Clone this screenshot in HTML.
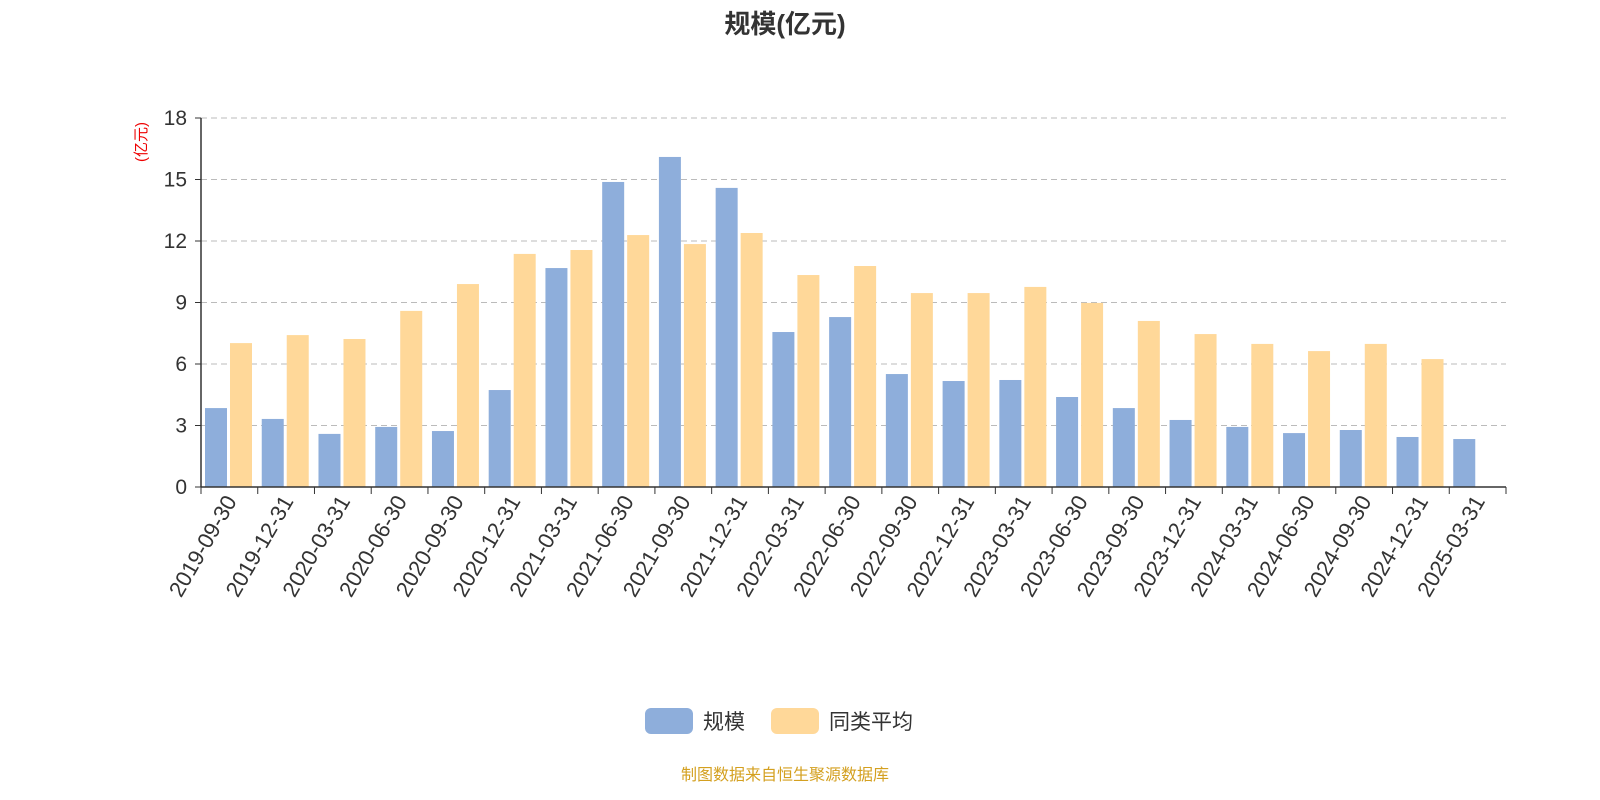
<!DOCTYPE html>
<html><head><meta charset="utf-8"><style>
html,body{margin:0;padding:0;background:#fff;}
svg{display:block;font-family:"Liberation Sans","Noto Sans CJK SC",sans-serif;}
</style></head><body>
<svg id="chart" width="1600" height="800" viewBox="0 0 1600 800">
<text x="785" y="33" text-anchor="middle" font-size="26" font-weight="bold" fill="#333">规模(亿元)</text>
<text transform="translate(146,142) rotate(-90)" text-anchor="middle" font-size="15" fill="#e00">(亿元)</text>
<g id="grid"></g><g id="bars"></g><g id="axes"></g>
<g>
<g><rect x="645" y="708" width="48" height="26" rx="6" fill="#8eaedb"/><text x="703" y="729" font-size="21" fill="#333">规模</text></g>
<g><rect x="771" y="708" width="48" height="26" rx="6" fill="#ffd899"/><text x="829" y="729" font-size="21" fill="#333">同类平均</text></g>
</g>
<text x="785" y="780" text-anchor="middle" font-size="16" fill="#d4a020">制图数据来自恒生聚源数据库</text>
</svg>
<script>
const categories=["2019-09-30","2019-12-31","2020-03-31","2020-06-30","2020-09-30","2020-12-31","2021-03-31","2021-06-30","2021-09-30","2021-12-31","2022-03-31","2022-06-30","2022-09-30","2022-12-31","2023-03-31","2023-06-30","2023-09-30","2023-12-31","2024-03-31","2024-06-30","2024-09-30","2024-12-31","2025-03-31"];
const sizeValues=[3.85,3.32,2.59,2.93,2.73,4.73,10.68,14.88,16.1,14.59,7.56,8.29,5.51,5.17,5.22,4.39,3.85,3.27,2.93,2.63,2.78,2.44,2.34];
const peerAvgValues=[7.02,7.41,7.22,8.59,9.9,11.37,11.56,12.29,11.85,12.39,10.34,10.78,9.46,9.46,9.76,8.98,8.1,7.46,6.98,6.63,6.98,6.24,null];
const yTicks=[0,3,6,9,12,15,18];
const NS="http://www.w3.org/2000/svg";
const X0=201,X1=1506,Y0=487,Y1=118,YMAX=18;
const bw=(X1-X0)/categories.length;
const y=v=>Y0-(v/YMAX)*(Y0-Y1);
const xb=i=>X0+i*bw;
function mk(tag,attrs,parent){const e=document.createElementNS(NS,tag);for(const k in attrs)e.setAttribute(k,attrs[k]);parent.appendChild(e);return e;}
const grid=document.getElementById('grid'),bars=document.getElementById('bars'),axes=document.getElementById('axes');
yTicks.forEach(t=>{
  if(t>0){const l=mk('line',{x1:X0,x2:X1,y1:y(t),y2:y(t),stroke:'#bbb','stroke-dasharray':'6,4'},grid);
  
  }
  const tk=mk('line',{x1:X0-6,x2:X0,y1:y(t),y2:y(t),stroke:'#333'},axes);
  
  
  const tx=mk('text',{x:X0-14,y:y(t)+7,'text-anchor':'end','font-size':21,fill:'#333'},axes);
  tx.textContent=t;
  
  
});
categories.forEach((c,i)=>{
  const s=sizeValues[i];
  if(s!=null){const r=mk('rect',{x:xb(i)+4,y:y(s),width:22,height:Y0-y(s),fill:'#8eaedb'},bars);
  
  }
  const p=peerAvgValues[i];
  if(p!=null){const r=mk('rect',{x:xb(i)+29,y:y(p),width:22,height:Y0-y(p),fill:'#ffd899'},bars);
  
  }
  const tk=mk('line',{x1:xb(i),x2:xb(i),y1:Y0,y2:Y0+7,stroke:'#333'},axes);
  
  
  const cx=xb(i)+bw/2;
  const tx=mk('text',{x:cx+8,y:Y0+14,'text-anchor':'end','font-size':22,fill:'#333',transform:`rotate(-60 ${cx+8} ${Y0+14})`},axes);
  tx.textContent=c;
  
  
});
const lt=mk('line',{x1:X1,x2:X1,y1:Y0,y2:Y0+7,stroke:'#333'},axes);


const xa=mk('line',{x1:X0,x2:X1,y1:Y0,y2:Y0,stroke:'#333','stroke-width':1.5},axes);


const ya=mk('line',{x1:X0,x2:X0,y1:Y1,y2:Y0,stroke:'#333','stroke-width':1.5},axes);


</script>
</body></html>
